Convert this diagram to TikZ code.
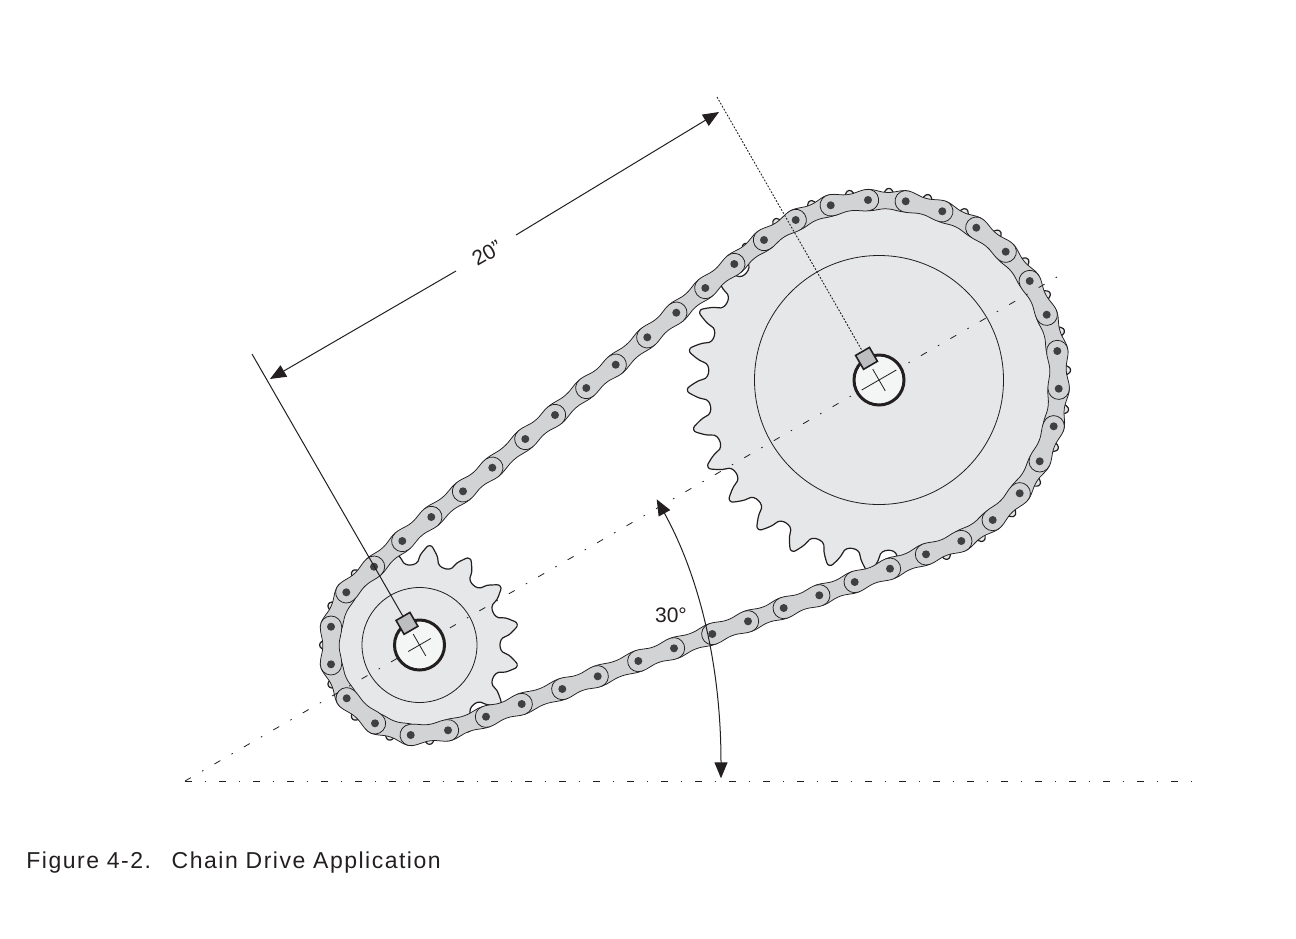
\documentclass[tikz,border=0pt]{standalone}
\usepackage{fontspec}
\setmainfont{Liberation Sans}
\usepackage{tikz}
\usetikzlibrary{arrows.meta}
\definecolor{inkline}{HTML}{231F20}
\definecolor{plategrey}{HTML}{D1D3D4}
\definecolor{wheelgrey}{HTML}{E6E7E8}
\definecolor{keygrey}{HTML}{BCBEC0}
\definecolor{boregrey}{HTML}{F4F6F5}
\definecolor{pingrey}{HTML}{404041}
\tikzset{
  sprocketline/.style={draw=inkline,fill=wheelgrey,line width=.6pt,line join=round},
  pitchline/.style={draw=inkline,line width=.4pt},
  plateline/.style={draw=inkline,fill=plategrey,line width=.38pt},
  axisline/.style={draw=inkline,line width=.4pt,dash pattern=on 3.4pt off 6.4pt on .8pt off 6.4pt},
  dimline/.style={draw=inkline,line width=.5pt},
  dimarrow/.style={dimline,-{Triangle[length=8pt,width=6.5pt]}},
  keybox/.style={draw=inkline,fill=keygrey,line width=.8pt,rotate=30,inner sep=0pt,minimum size=8pt},
  dimlabel/.style={font=\fontsize{10.5pt}{12pt}\selectfont,text=inkline,inner sep=0pt}
}
% hub, pitch radius, tip height, teeth, first tooth
\newcommand{\sprocketwheel}[5]{
  \begin{scope}[shift={(#1)},yscale=-1]
    \pgfmathsetmacro{\st}{360/#4}
    \pgfmathsetmacro{\lastk}{int(#4-1)}
    \filldraw[sprocketline] (#5-.5*\st:#2-9.5)
      \foreach \k [evaluate=\k as \a using #5+\k*\st] in {0,...,\lastk}{
        .. controls (\a-.40*\st:#2-9.5) and (\a-.28*\st:#2-8) .. (\a-.26*\st:#2-3)
        .. controls (\a-.24*\st:#2+1) and (\a-.13*\st:#2+#3-5) .. (\a-.08*\st:#2+#3-2)
        .. controls (\a-.05*\st:#2+#3+.5) and (\a+.05*\st:#2+#3+.5) .. (\a+.08*\st:#2+#3-2)
        .. controls (\a+.13*\st:#2+#3-5) and (\a+.24*\st:#2+1) .. (\a+.26*\st:#2-3)
        .. controls (\a+.28*\st:#2-8) and (\a+.40*\st:#2-9.5) .. (\a+.5*\st:#2-9.5)
      } -- cycle;
  \end{scope}
}
% hub, half length of the long cross line
\newcommand{\sprocketbore}[2]{
  \begin{scope}[shift={(#1)},yscale=-1]
    \filldraw[draw=inkline,fill=boregrey,line width=1.5pt] (0,0) circle[radius=25];
    \draw[pitchline] (30:#2) -- (210:#2);
    \draw[pitchline] (120:12.5) -- (300:12.5);
    \node[keybox] (#1key) at (120:25) {};
  \end{scope}
}
\newcommand{\chainbone}[4]{
  \pgfmathsetmacro{\ang}{atan2(#2-#4,#3-#1)}
  \pgfmathsetmacro{\len}{veclen(#3-#1,#4-#2)}
  \begin{scope}[shift={(#1,#2)},rotate=\ang,yscale=-1]
    \filldraw[plateline] (0,10.7) arc[start angle=90,delta angle=180,radius=10.7]
      .. controls (.22*\len,-10.7) and (.28*\len,-8.2) .. (.5*\len,-8.2)
      .. controls (.72*\len,-8.2) and (.78*\len,-10.7) .. (\len,-10.7)
      arc[start angle=-90,delta angle=180,radius=10.7]
      .. controls (.78*\len,10.7) and (.72*\len,8.2) .. (.5*\len,8.2)
      .. controls (.28*\len,8.2) and (.22*\len,10.7) .. (0,10.7) -- cycle;
  \end{scope}
}
\def\chainlist{486/716.7/521.7/704,562.3/689/597.7/676.3,638.3/661/674/648.3,
  712.3/634/748/621.3,783.7/608/819.3/595.3,854.7/582/890/568.7,926/554.3/961.3/541,
  992.7/520/1019.7/493.3,1039.7/461.3/1053.7/426.3,1058.7/388.7/1057.3/351,
  1046.7/314.7/1029.7/281,1005.7/251.7/976.3/227.7,942.3/211.3/905.7/201.3,
  868/200/830.7/205.3,795.7/220/764/240,734.3/264/705.3/288,676.3/312.7/647.3/337.3,
  615.7/364.7/586.3/388,555/415/525.3/439,492.3/467.7/463/491.3,431.3/517/402.3/541,
  374/566.7/346.3/592.3,331/626.7/331/664.3,346.7/698.3/375/723.3,410.7/735/448/730.3}
\begin{document}
\begin{tikzpicture}[x=.5pt,y=-.5pt]
  \useasboundingbox (0,0) rectangle (1296,938);
  \coordinate (smallHub) at (419.5,645);
  \coordinate (bigHub) at (879,380);
  \coordinate (axisStart) at (185,781);
  \coordinate (axisEnd) at (1057,277);
  \coordinate (levelEnd) at (1192,781);

  \sprocketwheel{smallHub}{90}{10}{15}{12}
  \sprocketwheel{bigHub}{180}{12}{30}{3}
  \draw[pitchline] (smallHub) circle[radius=57.5];
  \draw[pitchline] (bigHub) circle[radius=124.5];

  % chain, inner plates first
  \foreach \xa/\ya/\xb/\yb [remember=\xb as \xp (initially 448),remember=\yb as \yp (initially 730.3)] in \chainlist {
    \chainbone{\xp}{\yp}{\xa}{\ya}
  }
  \foreach \xa/\ya/\xb/\yb in \chainlist {
    \chainbone{\xa}{\ya}{\xb}{\yb}
    \fill[pingrey] (\xa,\ya) circle[radius=4] (\xb,\yb) circle[radius=4];
  }

  \draw[axisline] (axisStart) -- (axisEnd);
  \draw[axisline] (axisStart) -- (levelEnd);

  \sprocketbore{smallHub}{13}
  \sprocketbore{bigHub}{20}

  % 20 inch dimension
  \coordinate (leftEnd) at (252,354);
  \coordinate (rightEnd) at (717,97);
  \coordinate (dimLeft) at (270,379);
  \coordinate (dimRight) at (719,112);
  \draw[dimline] (leftEnd) -- (smallHubkey);
  \draw[dimline,line width=.45pt,dash pattern=on .9pt off .8pt] (rightEnd) -- (bigHubkey);
  \node[dimlabel,rotate=30] (lengthLabel) at (487,253) {20”};
  \draw[dimarrow] (lengthLabel.center) ++(-31,18) -- (dimLeft);
  \draw[dimarrow] (lengthLabel.center) ++(29,-18) -- (dimRight);

  % 30 degree angle
  \coordinate (angleTop) at (656.7,499.3);
  \coordinate (angleBase) at (721,778.3);
  \draw[dimline,{Triangle[length=8pt,width=6.5pt]}-{Triangle[length=8pt,width=6.5pt]}]
    (angleTop) .. controls (697,572) and (721,660) .. (angleBase);
  \node[dimlabel] (angleLabel) at (671,615) {30°};

  \node[anchor=base west,inner sep=0pt,text=inkline,font=\fontsize{11.5pt}{14pt}\selectfont\addfontfeatures{LetterSpace=6.5}] (figCaption) at (26,868) {Figure 4-2.\hspace{.9em}Chain Drive Application};
\end{tikzpicture}
\end{document}
